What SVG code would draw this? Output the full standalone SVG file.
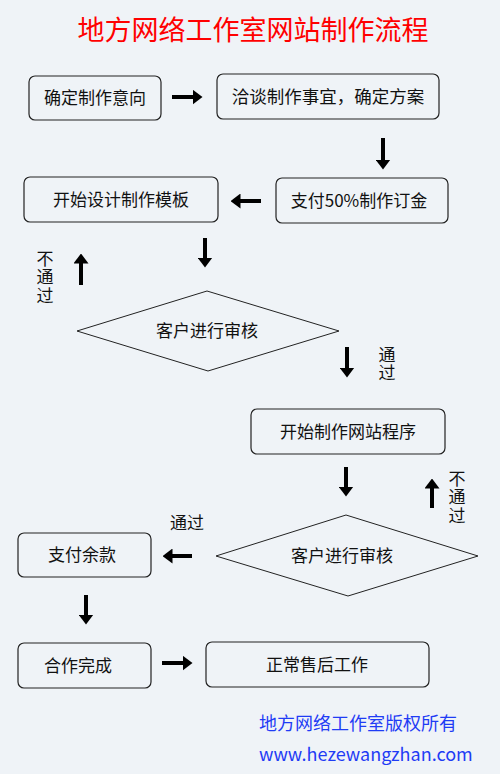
<svg xmlns="http://www.w3.org/2000/svg" width="500" height="774" viewBox="0 0 500 774">
<style>
text{font-family:"Noto Sans CJK SC","Noto Sans",sans-serif;fill:#111;font-size:17px}
.c{text-anchor:middle}
.v{writing-mode:vertical-rl;letter-spacing:1.5px}
.box{fill:none;stroke:#222;stroke-width:1.2}
.dia{fill:none;stroke:#222;stroke-width:1}
.arr{stroke:#000;stroke-width:4;fill:none;marker-end:url(#ah)}
.blue{fill:#1f3cf5;font-size:18px}
</style>
<defs>
<marker id="ah" markerUnits="userSpaceOnUse" markerWidth="10" markerHeight="15" viewBox="0 0 10 15" refX="0.5" refY="7.5" orient="auto">
<path d="M0,0 L10,7.5 L0,15 z" fill="#000"/>
</marker>
</defs>
<rect width="500" height="774" fill="#eff3f7"/>
<text x="253" y="40" class="c" style="fill:#ff0000;font-size:27px">地方网络工作室网站制作流程</text>

<g id="n1"><rect class="box" x="29" y="76" width="132" height="44" rx="6"/><text class="c" x="95" y="104">确定制作意向</text></g>
<g id="n2"><rect class="box" x="217" y="74" width="222" height="45" rx="6"/><text class="c" x="328" y="103" style="font-size:17.5px">洽谈制作事宜，确定方案</text></g>
<g id="n3"><rect class="box" x="24" y="177" width="194" height="45" rx="6"/><text class="c" x="121" y="206">开始设计制作模板</text></g>
<g id="n4"><rect class="box" x="276" y="178" width="172" height="45" rx="6"/><text class="c" x="359" y="207">支付50%制作订金</text></g>
<g id="d1"><polygon class="dia" points="77,331 207,291 339,331 208,371"/><text class="c" x="207" y="337">客户进行审核</text></g>
<g id="n5"><rect class="box" x="251" y="409" width="194" height="45" rx="6"/><text class="c" x="348" y="438">开始制作网站程序</text></g>
<g id="d2"><polygon class="dia" points="216,556 346,515 478,556 348,596"/><text class="c" x="342" y="562">客户进行审核</text></g>
<g id="n6"><rect class="box" x="18" y="533" width="133" height="44" rx="6"/><text class="c" x="82" y="561">支付余款</text></g>
<g id="n7"><rect class="box" x="18" y="643" width="133" height="45" rx="6"/><text class="c" x="78" y="672">合作完成</text></g>
<g id="n8"><rect class="box" x="206" y="642" width="223" height="45" rx="6"/><text class="c" x="317" y="671">正常售后工作</text></g>

<g id="connectors">
<line class="arr" x1="172" y1="97" x2="193" y2="97"/>
<line class="arr" x1="383" y1="138" x2="383" y2="160"/>
<line class="arr" x1="261" y1="201" x2="240" y2="201"/>
<line class="arr" x1="205" y1="238" x2="205" y2="258"/>
<line class="arr" x1="81" y1="285" x2="81" y2="263"/>
<line class="arr" x1="347" y1="347" x2="347" y2="368"/>
<line class="arr" x1="346" y1="467" x2="346" y2="487"/>
<line class="arr" x1="432" y1="508" x2="432" y2="488"/>
<line class="arr" x1="192" y1="556" x2="172" y2="556"/>
<line class="arr" x1="86" y1="595" x2="86" y2="615"/>
<line class="arr" x1="162" y1="663" x2="183" y2="663"/>
</g>

<g id="labels">
<text class="v" x="45" y="250">不通过</text>
<text class="v" x="387" y="346">通过</text>
<text class="v" x="457" y="470">不通过</text>
<text class="c" x="187" y="529">通过</text>
</g>

<text class="blue" x="259" y="730">地方网络工作室版权所有</text>
<text class="blue" x="259" y="761">www.hezewangzhan.com</text>
</svg>
